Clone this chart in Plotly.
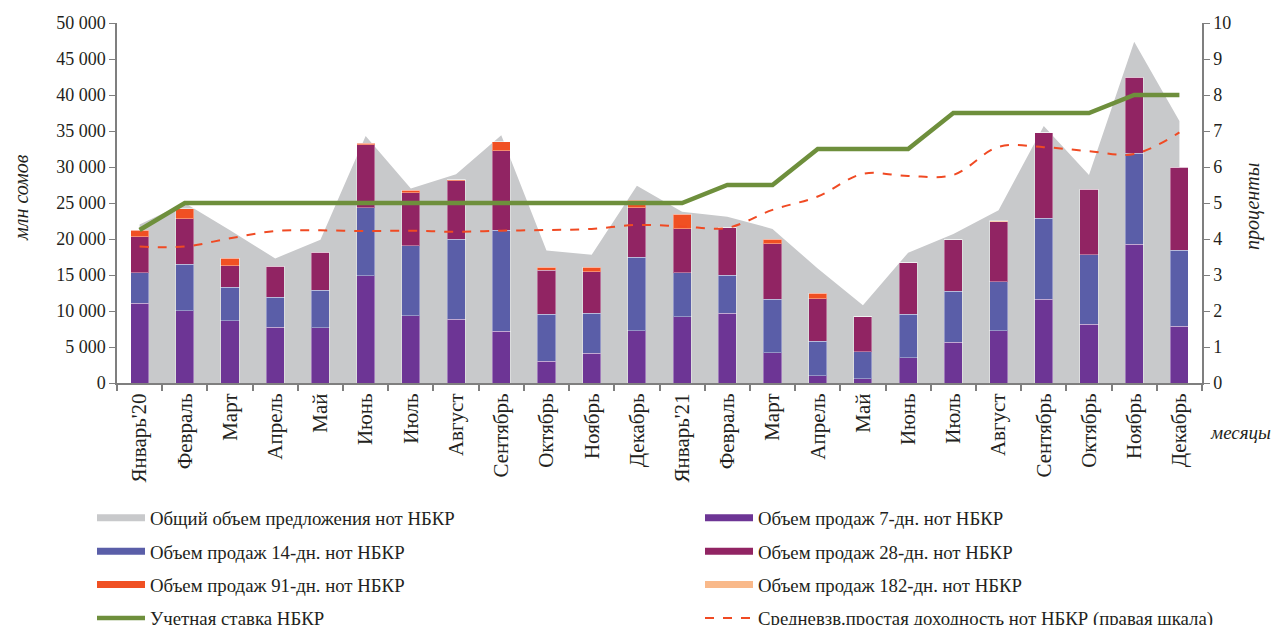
import plotly.graph_objects as go

months = ["Январь'20", "Февраль", "Март", "Апрель", "Май", "Июнь", "Июль", "Август",
          "Сентябрь", "Октябрь", "Ноябрь", "Декабрь", "Январь'21", "Февраль", "Март",
          "Апрель", "Май", "Июнь", "Июль", "Август", "Сентябрь", "Октябрь", "Ноябрь", "Декабрь"]

total_offer = [22000, 25000, 21200, 17300, 19900, 34300, 27000, 29000, 34400, 18400, 17800, 27400,
               23800, 23100, 21400, 15900, 10800, 18100, 20700, 24000, 35700, 28900, 47400, 36400]
sales_7d = [11070, 10040, 8660, 7730, 7690, 14910, 9350, 8840, 7180, 3010, 4120, 7270,
            9210, 9680, 4210, 1020, 600, 3520, 5650, 7270, 11630, 8150, 19260, 7870]
sales_14d = [4250, 6440, 4630, 4210, 5180, 9440, 9680, 11110, 14070, 6530, 5600, 10180,
             6070, 5320, 7410, 4810, 3750, 6020, 7080, 6760, 11240, 9630, 12640, 10600]
sales_28d = [5000, 6300, 3010, 4310, 5280, 8710, 7410, 8150, 11020, 6150, 5740, 6900,
             6160, 6570, 7690, 5840, 4860, 7170, 7180, 8380, 11900, 9120, 10600, 11490]
sales_91d = [930, 1390, 1010, 0, 0, 230, 320, 100, 1250, 370, 650, 1020,
             2030, 0, 640, 830, 0, 0, 0, 0, 0, 0, 0, 0]
sales_182d = [0, 0, 0, 0, 0, 0, 0, 0, 0, 0, 0, 0,
              0, 0, 0, 0, 0, 0, 0, 100, 0, 0, 0, 0]
discount_rate = [4.25, 5, 5, 5, 5, 5, 5, 5, 5, 5, 5, 5,
                 5, 5.5, 5.5, 6.5, 6.5, 6.5, 7.5, 7.5, 7.5, 7.5, 8, 8]
avg_yield = [3.79, 3.79, 4.02, 4.22, 4.24, 4.22, 4.23, 4.20, 4.23, 4.25, 4.28, 4.39,
             4.35, 4.31, 4.81, 5.18, 5.81, 5.75, 5.78, 6.56, 6.55, 6.44, 6.36, 6.96]

names = ["Общий объем предложения нот НБКР", "Объем продаж 7-дн. нот НБКР",
         "Объем продаж 14-дн. нот НБКР", "Объем продаж 28-дн. нот НБКР",
         "Объем продаж 91-дн. нот НБКР", "Объем продаж 182-дн. нот НБКР",
         "Учетная ставка НБКР", "Средневзв.простая доходность нот НБКР (правая шкала)"]

C_GRAY = "#c8c9cb"
C_7 = "#6d3595"
C_14 = "#5a5ea8"
C_28 = "#912463"
C_91 = "#f05023"
C_182 = "#f9b98a"
C_GREEN = "#6e8f3c"
C_RED = "#f04a23"

FONT = "Liberation Serif"
W, H = 1272, 625
# plot area in pixels
L, R, T, B = 117, 1202, 23, 383
PW, PH = R - L, B - T
x = list(range(len(months)))

fig = go.Figure()
# area (bottom layer)
fig.add_trace(go.Scatter(x=x, y=total_offer, mode="lines", fill="tozeroy", yaxis="y",
                         line=dict(width=0, color=C_GRAY), fillcolor=C_GRAY,
                         showlegend=False, hoverinfo="skip"))
# stacked bars (middle layer)
edge = dict(color="rgba(255,255,255,0.35)", width=1)
for vals, col in [(sales_7d, C_7), (sales_14d, C_14), (sales_28d, C_28),
                  (sales_91d, C_91), (sales_182d, C_182)]:
    fig.add_trace(go.Bar(x=x, y=vals, yaxis="y2", marker=dict(color=col, line=edge),
                         width=0.4, showlegend=False))
# lines (top layer, right scale)
fig.add_trace(go.Scatter(x=x, y=discount_rate, mode="lines", yaxis="y3",
                         line=dict(color=C_GREEN, width=4.5), showlegend=False))
fig.add_trace(go.Scatter(x=x, y=avg_yield, mode="lines", yaxis="y3",
                         line=dict(color=C_RED, width=2, dash="dash", shape="spline", smoothing=1.0),
                         showlegend=False))

# legend entries
leg_cols = [C_GRAY, C_7, C_14, C_28, C_91, C_182]
for i, (nm, col) in enumerate(zip(names[:6], leg_cols)):
    fig.add_trace(go.Scatter(x=[None], y=[None], mode="lines", name=nm,
                             line=dict(color=col, width=7),
                             legend="legend" if i % 2 == 0 else "legend2",
                             legendgroup=nm, legendrank=i))
fig.add_trace(go.Scatter(x=[None], y=[None], mode="lines", name=names[6],
                         line=dict(color=C_GREEN, width=4.5), legend="legend",
                         legendgroup=names[6], legendrank=6))
fig.add_trace(go.Scatter(x=[None], y=[None], mode="lines", name=names[7],
                         line=dict(color=C_RED, width=2, dash="dash"), legend="legend2",
                         legendgroup=names[7], legendrank=7))

axis_col = "#7f7f7f"


def px_x(p):
    return (p - L) / PW


def px_y(p):
    return (B - p) / PH


leg_common = dict(xanchor="left", yanchor="top", orientation="v", traceorder="grouped",
                  tracegroupgap=6, itemwidth=48, font=dict(size=18.8),
                  bgcolor="rgba(0,0,0,0)")
fig.update_layout(
    width=W, height=H,
    margin=dict(l=L, r=W - R, t=T, b=H - B, autoexpand=False),
    plot_bgcolor="white", paper_bgcolor="white",
    barmode="stack",
    separators=", ",
    font=dict(family=FONT, size=19, color="#231f20"),
    xaxis=dict(range=[-0.5, 23.5], tickmode="array", tickvals=x, ticktext=months,
               tickangle=-90, ticks="", showline=True, linecolor=axis_col, linewidth=2,
               showgrid=False, zeroline=False, tickfont=dict(size=21), automargin=False,
               minor=dict(tickmode="linear", tick0=0.5, dtick=1, ticks="outside",
                          ticklen=6, tickcolor=axis_col, tickwidth=1.5)),
    yaxis=dict(range=[0, 50000], dtick=5000, tickformat=",d", showgrid=False,
               showline=True, linecolor=axis_col, linewidth=1.5, ticks="outside",
               ticklen=6, tickcolor=axis_col, zeroline=False, tickfont=dict(size=18),
               automargin=False),
    yaxis2=dict(range=[0, 50000], overlaying="y", visible=False, showgrid=False,
                zeroline=False),
    yaxis3=dict(range=[0, 10], dtick=1, overlaying="y", side="right", showgrid=False,
                showline=True, linecolor=axis_col, linewidth=1.5, ticks="outside",
                ticklen=6, tickcolor=axis_col, zeroline=False, tickfont=dict(size=18),
                automargin=False),
    legend=dict(x=px_x(92), y=px_y(499), **leg_common),
    legend2=dict(x=px_x(700), y=px_y(499), **leg_common),
    annotations=[
        dict(text="<i>млн сомов</i>", x=px_x(21), y=px_y(198), xref="paper", yref="paper",
             xanchor="center", yanchor="middle",
             showarrow=False, textangle=-90, font=dict(size=20)),
        dict(text="<i>проценты</i>", x=px_x(1252), y=px_y(207), xref="paper", yref="paper",
             xanchor="center", yanchor="middle",
             showarrow=False, textangle=-90, font=dict(size=20)),
        dict(text="<i>месяцы</i>", x=px_x(1240), y=px_y(432), xref="paper", yref="paper",
             xanchor="center", yanchor="middle",
             showarrow=False, font=dict(size=19)),
    ],
)

fig.write_html("out.html",
               config={"displayModeBar": False},
               post_script="document.body.style.margin='0';"
                           "document.documentElement.style.overflow='hidden';"
                           "document.body.style.overflow='hidden';")
